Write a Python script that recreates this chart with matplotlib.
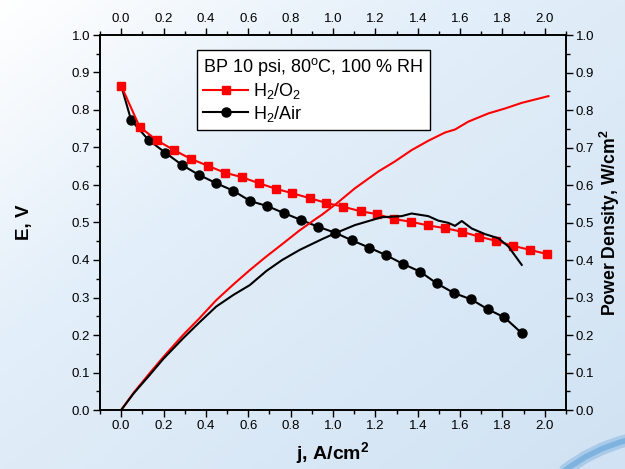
import numpy as np
import matplotlib
matplotlib.use('Agg')
import matplotlib.pyplot as plt
from matplotlib.path import Path
from matplotlib.patches import PathPatch
from matplotlib.ticker import MultipleLocator

plt.rcParams['font.family'] = ['Liberation Sans', 'DejaVu Sans']
plt.rcParams['mathtext.default'] = 'regular'

# polarization data, E (V) vs j (A/cm2)
j_o2 = [0.0, 0.087, 0.169, 0.249, 0.328, 0.410, 0.489, 0.569, 0.649, 0.730,
        0.808, 0.890, 0.969, 1.049, 1.130, 1.210, 1.289, 1.368, 1.450, 1.529,
        1.611, 1.691, 1.770, 1.849, 1.930, 2.009]
e_o2 = [0.865, 0.755, 0.719, 0.693, 0.670, 0.651, 0.633, 0.621, 0.605, 0.590,
        0.578, 0.565, 0.552, 0.542, 0.530, 0.522, 0.509, 0.502, 0.492, 0.485,
        0.475, 0.462, 0.451, 0.438, 0.427, 0.416]

j_air = [0.0, 0.047, 0.129, 0.209, 0.288, 0.367, 0.448, 0.528, 0.610, 0.689,
         0.769, 0.848, 0.928, 1.009, 1.091, 1.171, 1.250, 1.329, 1.411, 1.489,
         1.571, 1.652, 1.730, 1.809, 1.891]
e_air = [0.865, 0.773, 0.720, 0.686, 0.653, 0.627, 0.605, 0.585, 0.557, 0.544,
         0.525, 0.507, 0.489, 0.473, 0.452, 0.433, 0.413, 0.390, 0.369, 0.338,
         0.312, 0.295, 0.269, 0.247, 0.205]

# power density curves (W/cm2)
jp_o2 = [0.0, 0.06, 0.134, 0.20, 0.292, 0.37, 0.449, 0.53, 0.607, 0.68, 0.764,
         0.84, 0.922, 0.946, 1.02, 1.103, 1.214, 1.29, 1.371, 1.45, 1.529,
         1.576, 1.639, 1.734, 1.812, 1.891, 2.017]
p_o2 = [0.0, 0.047, 0.098, 0.142, 0.200, 0.245, 0.293, 0.335, 0.373, 0.407,
        0.444, 0.478, 0.511, 0.520, 0.552, 0.591, 0.636, 0.662, 0.693, 0.718,
        0.740, 0.748, 0.769, 0.791, 0.804, 0.819, 0.837]

jp_air = [0.0, 0.06, 0.134, 0.20, 0.292, 0.37, 0.449, 0.53, 0.607, 0.686,
          0.76, 0.843, 0.946, 1.009, 1.103, 1.229, 1.324, 1.371, 1.450, 1.497,
          1.545, 1.576, 1.608, 1.655, 1.718, 1.781, 1.828, 1.891]
p_air = [0.0, 0.045, 0.093, 0.137, 0.191, 0.234, 0.276, 0.307, 0.333, 0.371,
         0.400, 0.427, 0.455, 0.471, 0.493, 0.514, 0.517, 0.524, 0.517, 0.505,
         0.499, 0.491, 0.504, 0.484, 0.469, 0.458, 0.436, 0.387]

W, H = 625, 469
fig = plt.figure(figsize=(W / 100, H / 100), dpi=100)

# light blue gradient backdrop with a swoosh in the corner
bg = fig.add_axes([0, 0, 1, 1], zorder=-10)
yy, xx = np.mgrid[0:H, 0:W]
t = np.clip((xx / W + yy / H) / 0.75, 0, 1)
t2 = np.clip((xx / W + yy / H - 0.8) / 1.2, 0, 1)
white = np.array([1.0, 1.0, 1.0])
c1 = np.array([226, 238, 249]) / 255
c2 = np.array([208, 226, 243]) / 255
img = white * (1 - t[..., None]) + c1 * t[..., None]
img = img * (1 - t2[..., None]) + c2 * t2[..., None]
bg.imshow(img, extent=(0, W, H, 0), aspect='auto')
bg.set_xlim(0, W)
bg.set_ylim(H, 0)
swoosh = Path([(563, 472), (592, 449), (628, 440)],
              [Path.MOVETO, Path.CURVE3, Path.CURVE3])
bg.add_patch(PathPatch(swoosh, fill=False, edgecolor='#a9cbe9', lw=9))
bg.add_patch(PathPatch(swoosh, fill=False, edgecolor='#7eb3df', lw=4))
bg.axis('off')

ax = fig.add_axes([100 / W, 59 / H, 466 / W, 375 / H])
ax.patch.set_alpha(0)
ax2 = ax.twinx()

ax.plot(j_air, e_air, color='black', marker='o', markersize=6.5, lw=1.5,
        markevery=range(1, len(j_air)), label='H$_2$/Air', zorder=3)
ax.plot(j_o2, e_o2, color='red', marker='s', markersize=6, lw=1.5,
        label='H$_2$/O$_2$', zorder=3)
ax2.plot(jp_o2, p_o2, color='red', lw=1.5)
ax2.plot(jp_air, p_air, color='black', lw=1.5)

ax.set_xlim(-0.1, 2.1)
ax.set_ylim(0, 1.0)
ax2.set_ylim(0, 1.0)

ax.xaxis.set_major_locator(MultipleLocator(0.2))
ax.xaxis.set_minor_locator(MultipleLocator(0.1))
for a in (ax, ax2):
    a.yaxis.set_major_locator(MultipleLocator(0.1))
    a.yaxis.set_minor_locator(MultipleLocator(0.05))
    a.yaxis.set_major_formatter('{x:.1f}')
ax.xaxis.set_major_formatter(lambda v, p: f'{v:.1f}' if -0.01 < v < 2.01 else '')

ax.tick_params(which='both', direction='out', top=True, labeltop=True,
               labelsize=9.5, width=1, pad=2)
ax.tick_params(which='major', length=5)
ax.tick_params(which='minor', length=3)
ax2.tick_params(which='both', direction='out', labelsize=9.5, width=1, pad=2)
ax2.tick_params(which='major', length=5)
ax2.tick_params(which='minor', length=3)
for a in (ax, ax2):
    for s in a.spines.values():
        s.set_linewidth(1.2)

ax.set_xlabel('j, A/cm$^2$', fontsize=14, fontweight='bold', labelpad=6)
ax.set_ylabel('E, V', fontsize=13.5, fontweight='bold', labelpad=28)
ax2.set_ylabel('Power Density, W/cm$^2$', fontsize=12.7, fontweight='bold',
               labelpad=3)

handles, labels = ax.get_legend_handles_labels()
leg = ax.legend(handles[::-1], labels[::-1], loc='upper left',
                bbox_to_anchor=(0.208, 0.96), borderaxespad=0,
                title='BP 10 psi, 80$^o$C, 100 % RH', fontsize=13,
                title_fontsize=13, frameon=True, fancybox=False,
                framealpha=1, edgecolor='black', borderpad=0.35,
                handlelength=2.5, handletextpad=0.25, labelspacing=0.15)
leg.get_frame().set_linewidth(1.0)
leg._legend_box.align = 'left'
leg.set_zorder(10)

fig.savefig('out.png', dpi=100)
